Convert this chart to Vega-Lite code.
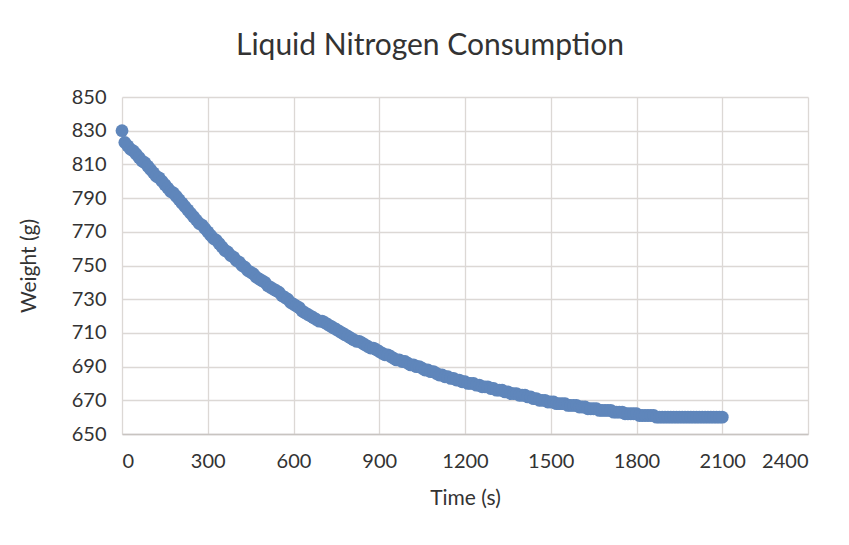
{
  "$schema": "https://vega.github.io/schema/vega-lite/v6.json",
  "autosize": "none",
  "width": 686,
  "height": 337,
  "padding": {"left": 122, "top": 97, "right": 41, "bottom": 111},
  "background": "white",
  "title": {
    "text": "Liquid Nitrogen Consumption",
    "font": "Lato",
    "fontSize": 30,
    "fontWeight": "normal",
    "color": "#333333",
    "anchor": "middle",
    "dx": -35,
    "offset": 26
  },
  "config": {
    "view": {"stroke": null},
    "axis": {
      "labelFont": "Lato",
      "labelFontSize": 20,
      "labelColor": "#333333",
      "titleFont": "Lato",
      "titleFontSize": 21,
      "titleFontWeight": "normal",
      "titleColor": "#333333",
      "gridColor": "#dcd8d5",
      "gridWidth": 1.3,
      "ticks": false
    }
  },
  "data": {
    "values": [
      {"t":0,"w":830},{"t":10,"w":823},{"t":20,"w":821},{"t":30,"w":819},{"t":40,"w":818},{"t":50,"w":816},{"t":60,"w":814},{"t":70,"w":812},{"t":80,"w":811},{"t":90,"w":809},
      {"t":100,"w":807},{"t":110,"w":805},{"t":120,"w":803},{"t":130,"w":802},{"t":140,"w":800},{"t":150,"w":798},{"t":160,"w":796},{"t":170,"w":794},{"t":180,"w":793},{"t":190,"w":791},
      {"t":200,"w":789},{"t":210,"w":787},{"t":220,"w":785},{"t":230,"w":783},{"t":240,"w":781},{"t":250,"w":779},{"t":260,"w":777},{"t":270,"w":775},{"t":280,"w":774},{"t":290,"w":772},
      {"t":300,"w":770},{"t":310,"w":768},{"t":320,"w":766},{"t":330,"w":765},{"t":340,"w":763},{"t":350,"w":761},{"t":360,"w":759},{"t":370,"w":758},{"t":380,"w":756},{"t":390,"w":755},
      {"t":400,"w":753},{"t":410,"w":752},{"t":420,"w":750},{"t":430,"w":749},{"t":440,"w":747},{"t":450,"w":746},{"t":460,"w":745},{"t":470,"w":743},{"t":480,"w":742},{"t":490,"w":741},
      {"t":500,"w":740},{"t":510,"w":738},{"t":520,"w":737},{"t":530,"w":736},{"t":540,"w":735},{"t":550,"w":734},{"t":560,"w":732},{"t":570,"w":731},{"t":580,"w":730},{"t":590,"w":728},
      {"t":600,"w":727},{"t":610,"w":726},{"t":620,"w":725},{"t":630,"w":723},{"t":640,"w":722},{"t":650,"w":721},{"t":660,"w":720},{"t":670,"w":719},{"t":680,"w":718},{"t":690,"w":717},
      {"t":700,"w":717},{"t":710,"w":716},{"t":720,"w":715},{"t":730,"w":714},{"t":740,"w":713},{"t":750,"w":712},{"t":760,"w":711},{"t":770,"w":710},{"t":780,"w":709},{"t":790,"w":708},
      {"t":800,"w":707},{"t":810,"w":706},{"t":820,"w":705},{"t":830,"w":705},{"t":840,"w":704},{"t":850,"w":703},{"t":860,"w":702},{"t":870,"w":701},{"t":880,"w":701},{"t":890,"w":700},
      {"t":900,"w":699},{"t":910,"w":698},{"t":920,"w":697},{"t":930,"w":697},{"t":940,"w":696},{"t":950,"w":695},{"t":960,"w":694},{"t":970,"w":694},{"t":980,"w":693},{"t":990,"w":693},
      {"t":1000,"w":692},{"t":1010,"w":691},{"t":1020,"w":691},{"t":1030,"w":690},{"t":1040,"w":690},{"t":1050,"w":689},{"t":1060,"w":688},{"t":1070,"w":688},{"t":1080,"w":687},{"t":1090,"w":687},
      {"t":1100,"w":686},{"t":1110,"w":685},{"t":1120,"w":685},{"t":1130,"w":684},{"t":1140,"w":684},{"t":1150,"w":683},{"t":1160,"w":683},{"t":1170,"w":682},{"t":1180,"w":682},{"t":1190,"w":681},
      {"t":1200,"w":681},{"t":1210,"w":680},{"t":1220,"w":680},{"t":1230,"w":680},{"t":1240,"w":679},{"t":1250,"w":679},{"t":1260,"w":678},{"t":1270,"w":678},{"t":1280,"w":678},{"t":1290,"w":677},
      {"t":1300,"w":677},{"t":1310,"w":676},{"t":1320,"w":676},{"t":1330,"w":676},{"t":1340,"w":675},{"t":1350,"w":675},{"t":1360,"w":674},{"t":1370,"w":674},{"t":1380,"w":674},{"t":1390,"w":673},
      {"t":1400,"w":673},{"t":1410,"w":673},{"t":1420,"w":672},{"t":1430,"w":672},{"t":1440,"w":671},{"t":1450,"w":671},{"t":1460,"w":670},{"t":1470,"w":670},{"t":1480,"w":670},{"t":1490,"w":669},
      {"t":1500,"w":669},{"t":1510,"w":669},{"t":1520,"w":668},{"t":1530,"w":668},{"t":1540,"w":668},{"t":1550,"w":668},{"t":1560,"w":667},{"t":1570,"w":667},{"t":1580,"w":667},{"t":1590,"w":667},
      {"t":1600,"w":666},{"t":1610,"w":666},{"t":1620,"w":666},{"t":1630,"w":665},{"t":1640,"w":665},{"t":1650,"w":665},{"t":1660,"w":665},{"t":1670,"w":664},{"t":1680,"w":664},{"t":1690,"w":664},
      {"t":1700,"w":664},{"t":1710,"w":664},{"t":1720,"w":663},{"t":1730,"w":663},{"t":1740,"w":663},{"t":1750,"w":663},{"t":1760,"w":662},{"t":1770,"w":662},{"t":1780,"w":662},{"t":1790,"w":662},
      {"t":1800,"w":662},{"t":1810,"w":661},{"t":1820,"w":661},{"t":1830,"w":661},{"t":1840,"w":661},{"t":1850,"w":661},{"t":1860,"w":661},{"t":1870,"w":660},{"t":1880,"w":660},{"t":1890,"w":660},
      {"t":1900,"w":660},{"t":1910,"w":660},{"t":1920,"w":660},{"t":1930,"w":660},{"t":1940,"w":660},{"t":1950,"w":660},{"t":1960,"w":660},{"t":1970,"w":660},{"t":1980,"w":660},{"t":1990,"w":660},
      {"t":2000,"w":660},{"t":2010,"w":660},{"t":2020,"w":660},{"t":2030,"w":660},{"t":2040,"w":660},{"t":2050,"w":660},{"t":2060,"w":660},{"t":2070,"w":660},{"t":2080,"w":660},{"t":2090,"w":660},
      {"t":2100,"w":660}
    ]
  },
  "mark": {"type": "point", "filled": true, "size": 165, "opacity": 1, "color": "#5f86bb"},
  "encoding": {
    "x": {
      "field": "t",
      "type": "quantitative",
      "title": "Time (s)",
      "scale": {"domain": [0, 2400], "nice": false},
      "axis": {
        "values": [0, 300, 600, 900, 1200, 1500, 1800, 2100, 2400],
        "format": "d",
        "labelPadding": 17,
        "titlePadding": 16,
        "domainColor": "#c8c4c1",
        "domainWidth": 1.5
      }
    },
    "y": {
      "field": "w",
      "type": "quantitative",
      "title": "Weight (g)",
      "scale": {"domain": [650, 850], "nice": false, "zero": false},
      "axis": {
        "values": [650, 670, 690, 710, 730, 750, 770, 790, 810, 830, 850],
        "format": "d",
        "domain": false,
        "labelPadding": 16,
        "titlePadding": 32
      }
    }
  }
}
